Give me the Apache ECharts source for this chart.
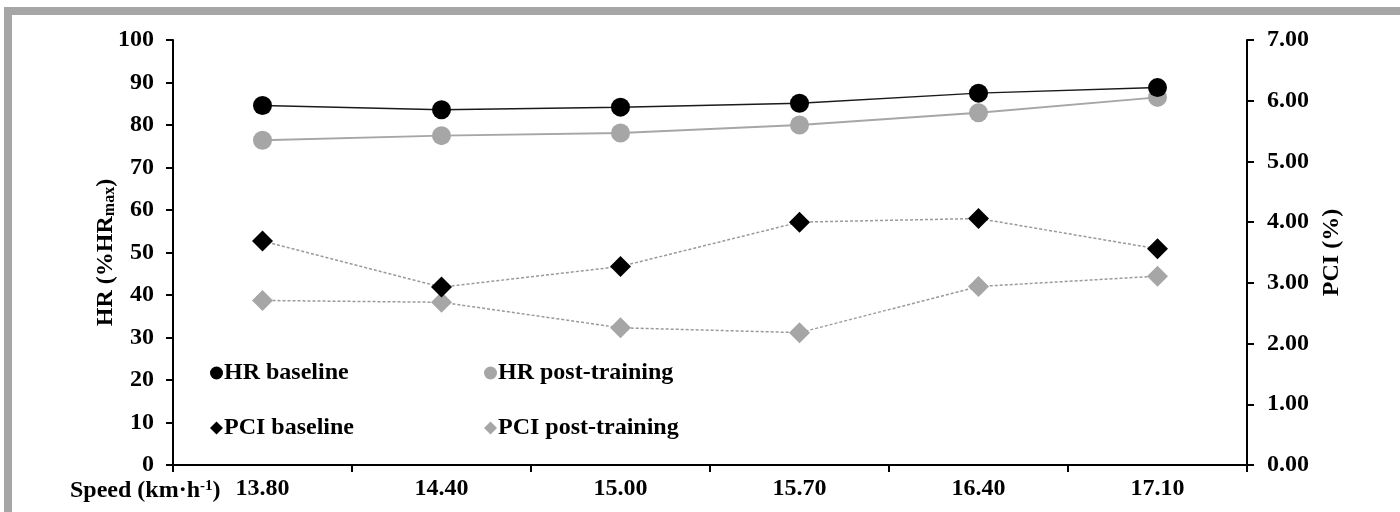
<!DOCTYPE html>
<html>
<head>
<meta charset="utf-8">
<script src="https://cdn.jsdelivr.net/npm/echarts@6/dist/echarts.min.js"></script>
<style>
    html, body { margin: 0; padding: 0; background: #fff; }
    #chart { width: 1400px; height: 512px; }
</style>
</head>
<body>
<div id="chart"></div>
<script>
var speeds = ['13.80', '14.40', '15.00', '15.70', '16.40', '17.10'];
var hrBaseline = [84.6, 83.6, 84.2, 85.1, 87.5, 88.8];
var hrPost = [76.4, 77.5, 78.1, 80.0, 82.9, 86.5];
var pciBaseline = [3.69, 2.93, 3.27, 4.00, 4.06, 3.56];
var pciPost = [2.71, 2.68, 2.26, 2.18, 2.94, 3.11];

var FONT = '"Liberation Serif", "Times New Roman", serif';
var GREY = '#a6a6a6';

var chart = echarts.init(document.getElementById('chart'), null, { renderer: 'canvas' });

var boldText = {
    fontFamily: FONT,
    fontWeight: 'bold',
    fontSize: 24,
    color: '#000'
};

// one legend per entry, laid out in two rows / two columns inside the plot
var legendAt = function(name, icon, left, top) {
    return {
        data: [{ name: name, icon: icon }],
        left: left,
        top: top,
        itemWidth: 13,
        itemHeight: 13,
        padding: 0,
        selectedMode: false,
        textStyle: {
            fontFamily: FONT,
            fontWeight: 'bold',
            fontSize: 24,
            color: '#000',
            padding: [0, 0, 0, -4]
        }
    };
};

var option = {
    animation: false,
    backgroundColor: '#fff',
    graphic: [
        { type: 'rect', shape: { x: 4, y: 7, width: 1396, height: 8 }, style: { fill: GREY } },
        { type: 'rect', shape: { x: 4, y: 7, width: 8, height: 505 }, style: { fill: GREY } },
        {
            type: 'text',
            x: 70,
            y: 491,
            style: {
                text: '{a|Speed (km·h}{sup|-1}{a|)}',
                verticalAlign: 'middle',
                rich: {
                    a: { fontFamily: FONT, fontWeight: 'bold', fontSize: 24, fill: '#000' },
                    sup: { fontFamily: FONT, fontWeight: 'bold', fontSize: 15, fill: '#000', verticalAlign: 'top' }
                }
            }
        }
    ],
    legend: [
        legendAt('HR baseline', 'circle', 210, 361),
        legendAt('HR post-training', 'circle', 484, 361),
        legendAt('PCI baseline', 'diamond', 210, 416),
        legendAt('PCI post-training', 'diamond', 484, 416)
    ],
    grid: {
        left: 173,
        right: 153,
        top: 40,
        bottom: 47
    },
    xAxis: {
        type: 'category',
        data: speeds,
        boundaryGap: true,
        axisLine: { lineStyle: { color: '#000', width: 2 } },
        axisTick: { show: true, length: 7, lineStyle: { color: '#000', width: 2 } },
        axisLabel: Object.assign({ margin: 12 }, boldText),
        splitLine: { show: false }
    },
    yAxis: [{
        type: 'value',
        position: 'left',
        min: 0,
        max: 100,
        interval: 10,
        name: '{a|HR (%HR}{s|max}{a|)}',
        nameLocation: 'middle',
        nameRotate: 90,
        nameGap: 55,
        nameMoveOverlap: false,
        nameTextStyle: {
            rich: {
                a: { fontFamily: FONT, fontWeight: 'bold', fontSize: 24, color: '#000' },
                s: { fontFamily: FONT, fontWeight: 'bold', fontSize: 16, color: '#000', verticalAlign: 'bottom' }
            }
        },
        axisLine: { show: true, lineStyle: { color: '#000', width: 2 } },
        axisTick: { show: true, length: 7, lineStyle: { color: '#000', width: 2 } },
        axisLabel: Object.assign({ margin: 19 }, boldText),
        splitLine: { show: false }
    }, {
        type: 'value',
        position: 'right',
        min: 0,
        max: 7,
        interval: 1,
        name: 'PCI (%)',
        nameLocation: 'middle',
        nameRotate: 90,
        nameGap: 70,
        nameTextStyle: boldText,
        axisLine: { show: true, lineStyle: { color: '#000', width: 2 } },
        axisTick: { show: true, length: 7, lineStyle: { color: '#000', width: 2 } },
        axisLabel: Object.assign({
            margin: 20,
            formatter: function(v) { return v.toFixed(2); }
        }, boldText),
        splitLine: { show: false }
    }],
    series: [{
        name: 'HR baseline',
        type: 'line',
        data: hrBaseline,
        symbol: 'circle',
        symbolSize: 19,
        itemStyle: { color: '#000' },
        lineStyle: { color: '#1a1a1a', width: 1.5 },
        z: 4
    }, {
        name: 'HR post-training',
        type: 'line',
        data: hrPost,
        symbol: 'circle',
        symbolSize: 19,
        itemStyle: { color: GREY },
        lineStyle: { color: GREY, width: 2 },
        z: 3
    }, {
        name: 'PCI baseline',
        type: 'line',
        yAxisIndex: 1,
        data: pciBaseline,
        symbol: 'diamond',
        symbolSize: [21, 21],
        itemStyle: { color: '#000' },
        lineStyle: { color: '#9a9a9a', width: 1.5, type: [3, 2] },
        z: 4
    }, {
        name: 'PCI post-training',
        type: 'line',
        yAxisIndex: 1,
        data: pciPost,
        symbol: 'diamond',
        symbolSize: [21, 21],
        itemStyle: { color: GREY },
        lineStyle: { color: '#9a9a9a', width: 1.5, type: [3, 2] },
        z: 3
    }]
};

chart.setOption(option);
window.addEventListener('resize', function() {
    chart.resize();
});
</script>
</body>
</html>
